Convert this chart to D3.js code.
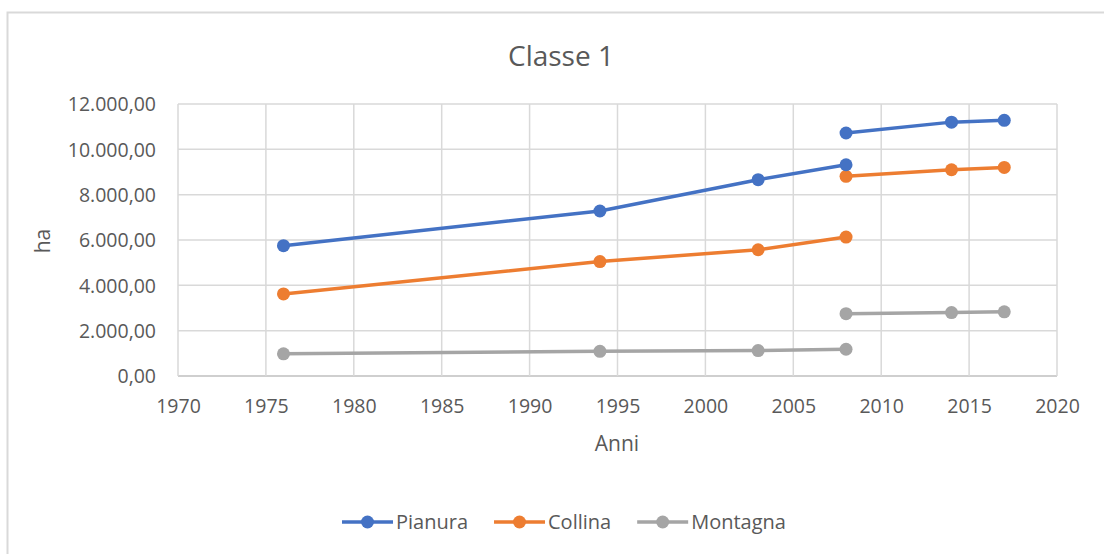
<!DOCTYPE html>
<html>
<head>
<meta charset="utf-8">
<script src="https://cdn.jsdelivr.net/npm/d3@7"></script>
<style>
  body { margin: 0; background: #fff; }
  text { font-family: "Open Sans", sans-serif; fill: #595959; }
</style>
</head>
<body>
<svg id="chart" width="1104" height="554"></svg>
<script>
// data
var seriesNames = ["Pianura", "Collina", "Montagna"];
var seriesColors = ["#4472C4", "#ED7D31", "#A5A5A5"];
// each series is drawn as two separate runs of points
var yearsA = [1976, 1994, 2003, 2008];
var yearsB = [2008, 2014, 2017];
var pianuraA = [5750, 7280, 8660, 9320];
var pianuraB = [10720, 11200, 11280];
var collinaA = [3620, 5050, 5570, 6130];
var collinaB = [8810, 9100, 9200];
var montagnaA = [980, 1090, 1120, 1180];
var montagnaB = [2750, 2800, 2830];
var xTicks = [1970, 1975, 1980, 1985, 1990, 1995, 2000, 2005, 2010, 2015, 2020];
var yTicks = [0, 2000, 4000, 6000, 8000, 10000, 12000];

var svg = d3.select("#chart");

// chart border
svg.append("rect")
    .attr("x", 7.5).attr("y", 12.5)
    .attr("width", 1110).attr("height", 560)
    .style("fill", "none")
    .style("stroke", "#d9d9d9")
    .style("stroke-width", 2)

var x = d3.scaleLinear().domain([1970, 2020]).range([178, 1057]);
var y = d3.scaleLinear().domain([0, 12000]).range([376, 104]);

var fmt = function(v){
    return d3.format(",.2f")(v).replace(/,/g, "#").replace(".", ",").replace(/#/g, ".");
}

// grid
var grid = svg.append("g").attr("id", "grid");
grid.selectAll("line.h").data(yTicks).enter().append("line")
    .attr("x1", x(1970)).attr("x2", x(2020))
    .attr("y1", d => y(d)).attr("y2", d => y(d))
    .style("stroke", d => d == 0 ? "#bfbfbf" : "#d9d9d9")
    .style("stroke-width", 1.5)
grid.selectAll("line.v").data(xTicks).enter().append("line")
    .attr("x1", d => x(d)).attr("x2", d => x(d))
    .attr("y1", y(0)).attr("y2", y(12000))
    .style("stroke", "#d9d9d9")
    .style("stroke-width", 1.5)

// axes (labels only, lines come from grid)
var yAxis = svg.append("g")
    .attr("transform", "translate(" + (x(1970) - 22) + ",0)")
    .call(d3.axisLeft(y).tickValues(yTicks).tickFormat(fmt).tickSize(0).tickPadding(0));
var xAxis = svg.append("g")
    .attr("transform", "translate(0," + (y(0) + 23) + ")")
    .call(d3.axisBottom(x).tickValues(xTicks).tickFormat(d3.format("d")).tickSize(0).tickPadding(0));
svg.selectAll(".domain").remove();
yAxis.selectAll("text").style("font-size", "19.5px").style("fill", "#595959").attr("dy", "0.35em")
xAxis.selectAll("text").style("font-size", "19.5px").style("fill", "#595959").attr("dy", "0.72em")

// titles
svg.append("text")
    .attr("x", 561).attr("y", 66)
    .attr("text-anchor", "middle")
    .style("font-size", "28px")
    .text("Classe 1")
svg.append("text")
    .attr("x", 617).attr("y", 451)
    .attr("text-anchor", "middle")
    .style("font-size", "21px")
    .text("Anni")
svg.append("text")
    .attr("transform", "translate(50,241) rotate(-90)")
    .attr("text-anchor", "middle")
    .style("font-size", "21px")
    .text("ha")

// series
var runs = [
    [[yearsA, pianuraA], [yearsB, pianuraB]],
    [[yearsA, collinaA], [yearsB, collinaB]],
    [[yearsA, montagnaA], [yearsB, montagnaB]]
];
var line = d3.line().x(d => x(d[0])).y(d => y(d[1]));

// draw in reverse so blue sits on top
for (var s = runs.length - 1; s >= 0; s--) {
    var sg = svg.append("g").attr("class", "series");
    runs[s].forEach(function(r){
        var pts = r[0].map((yr, i) => [yr, r[1][i]]);
        sg.append("path")
            .attr("d", line(pts))
            .style("fill", "none")
            .style("stroke", seriesColors[s])
            .style("stroke-width", 3.5)
            .style("stroke-linejoin", "round")
        sg.selectAll(null).data(pts).enter().append("circle")
            .attr("cx", d => x(d[0])).attr("cy", d => y(d[1]))
            .attr("r", 6.5)
            .style("fill", seriesColors[s])
    })
}

// legend
var legend = svg.append("g").attr("id", "legend");
var lx = 342, ly = 522;
seriesNames.forEach(function(name, i){
    var item = legend.append("g");
    item.append("line")
        .attr("x1", lx).attr("x2", lx + 51)
        .attr("y1", ly).attr("y2", ly)
        .style("stroke", seriesColors[i])
        .style("stroke-width", 3.5)
    item.append("circle")
        .attr("cx", lx + 25.5).attr("cy", ly).attr("r", 6.5)
        .style("fill", seriesColors[i])
    var t = item.append("text")
        .attr("x", lx + 54).attr("y", ly).attr("dy", "0.35em")
        .style("font-size", "20px")
        .text(name)
    lx = lx + 54 + t.node().getComputedTextLength() + 26;
})
</script>
</body>
</html>
